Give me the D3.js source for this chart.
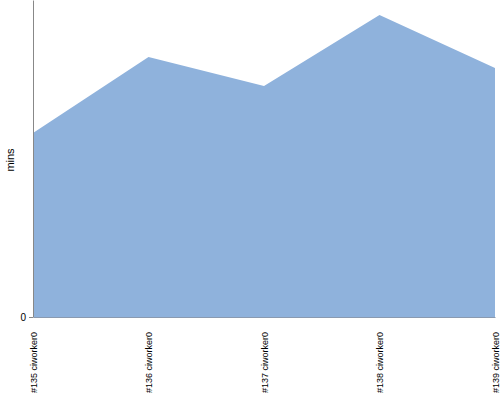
<!DOCTYPE html>
<html>
<head>
<meta charset="utf-8">
<script src="https://cdn.jsdelivr.net/npm/d3@7"></script>
<style>
body { margin: 0; background: #fff; }
text { font-family: "Liberation Sans", Arial, sans-serif; }
</style>
</head>
<body>
<div id="chart"></div>
<script>
// builds and their durations
const builds = ['#135 ciworker0', '#136 ciworker0', '#137 ciworker0', '#138 ciworker0', '#139 ciworker0'];
const mins = [18.4, 26.0, 23.1, 30.2, 24.9];
const yTicks = [0];

const width = 500, height = 400;
const margin = { top: 0, right: 5, bottom: 83, left: 33 };

const svg = d3.select('#chart').append('svg')
    .attr('width', width)
    .attr('height', height);

const x = d3.scalePoint()
    .domain(builds)
    .range([margin.left, width - margin.right]);

const y = d3.scaleLinear()
    .domain([0, 31.7])
    .range([height - margin.bottom, margin.top]);

const area = d3.area()
    .x((d, i) => x(builds[i]))
    .y0(y(0))
    .y1(d => y(d));

svg.append('path')
    .datum(mins)
    .attr('fill', '#8fb2dc')
    .attr('d', area);

// y axis
const yAxis = svg.append('g')
    .attr('transform', `translate(${margin.left},0)`)
    .call(d3.axisLeft(y).tickValues(yTicks).tickSize(4).tickSizeOuter(0));
yAxis.select('.domain').attr('stroke', '#888');
yAxis.selectAll('.tick line').attr('stroke', '#888');
yAxis.selectAll('.tick text').attr('font-size', 10).attr('fill', '#000');

// x axis
const xAxis = svg.append('g')
    .attr('transform', `translate(0,${y(0)})`)
    .call(d3.axisBottom(x).tickSize(0).tickSizeOuter(0));
xAxis.select('.domain').attr('stroke', '#8a9ab0');
xAxis.selectAll('.tick text')
    .attr('font-size', 9)
    .attr('fill', '#000')
    .attr('text-anchor', 'end')
    .attr('dy', '0.35em')
    .attr('transform', 'translate(0,15) rotate(-90)')
    .attr('x', 0)
    .attr('y', 0);

svg.append('text')
    .attr('transform', `translate(14,${160}) rotate(-90)`)
    .attr('text-anchor', 'middle')
    .attr('font-size', 11)
    .text('mins');
</script>
</body>
</html>
